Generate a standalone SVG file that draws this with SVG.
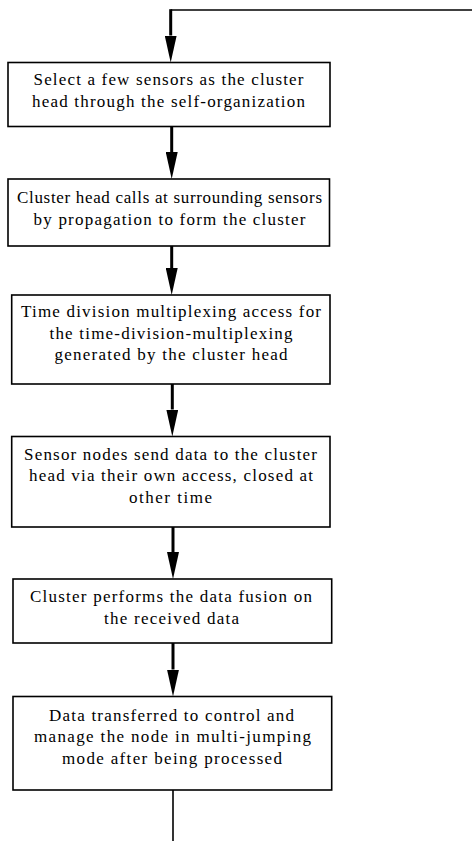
<svg xmlns="http://www.w3.org/2000/svg" width="472" height="841" viewBox="0 0 472 841">
<style>
.box{fill:#fff;stroke:#000;stroke-width:1.6}
.lbl{font-family:'Liberation Serif','Times New Roman',serif;font-size:17px;fill:#000;text-anchor:middle}
.shaft{stroke:#000;stroke-width:3;fill:none}
.thin{stroke:#000;stroke-width:1.6;fill:none}
</style>
<defs>
<marker id="ah" viewBox="0 -6 27 12" refX="0" refY="0" markerWidth="27" markerHeight="12" markerUnits="userSpaceOnUse" orient="auto">
<path d="M0,-6 L27,0 L0,6 Z" fill="#000"/>
</marker>
</defs>
<rect width="472" height="841" fill="#fff"/>
<g id="connectors">
<path class="thin" d="M472,10 H170.7"/>
<path class="shaft" d="M170.7,9.2 V35.5" marker-end="url(#ah)"/>
<path class="shaft" d="M171.7,126.5 V152" marker-end="url(#ah)"/>
<path class="shaft" d="M171.7,246 V268" marker-end="url(#ah)"/>
<path class="shaft" d="M172.3,384 V409.5" marker-end="url(#ah)"/>
<path class="shaft" d="M173,527 V552" marker-end="url(#ah)"/>
<path class="shaft" d="M173,643 V669.5" marker-end="url(#ah)"/>
<path class="thin" d="M173,790 V841"/>
</g>
<g id="n1">
<rect class="box" x="8" y="62.5" width="322" height="64"/>
<text class="lbl" x="168.5" y="84.5" textLength="270" lengthAdjust="spacing">Select a few sensors as the cluster</text>
<text class="lbl" x="168.5" y="107" textLength="273" lengthAdjust="spacing">head through the self-organization</text>
</g>
<g id="n2">
<rect class="box" x="8" y="179" width="321.5" height="67"/>
<text class="lbl" x="169.5" y="202.5" textLength="305" lengthAdjust="spacing">Cluster head calls at surrounding sensors</text>
<text class="lbl" x="169.5" y="224.5" textLength="272" lengthAdjust="spacing">by propagation to form the cluster</text>
</g>
<g id="n3">
<rect class="box" x="11.7" y="295" width="318.3" height="89"/>
<text class="lbl" x="171" y="317" textLength="300" lengthAdjust="spacing">Time division multiplexing access for</text>
<text class="lbl" x="171" y="338.5" textLength="243" lengthAdjust="spacing">the time-division-multiplexing</text>
<text class="lbl" x="171" y="360" textLength="233" lengthAdjust="spacing">generated by the cluster head</text>
</g>
<g id="n4">
<rect class="box" x="11.7" y="436.5" width="318.3" height="90.5"/>
<text class="lbl" x="170.5" y="459.5" textLength="293" lengthAdjust="spacing">Sensor nodes send data to the cluster</text>
<text class="lbl" x="171" y="481" textLength="284" lengthAdjust="spacing">head via their own access, closed at</text>
<text class="lbl" x="170.5" y="502.5" textLength="83" lengthAdjust="spacing">other time</text>
</g>
<g id="n5">
<rect class="box" x="13" y="579" width="318.7" height="64"/>
<text class="lbl" x="171" y="601.5" textLength="282" lengthAdjust="spacing">Cluster performs the data fusion on</text>
<text class="lbl" x="171.5" y="624" textLength="135" lengthAdjust="spacing">the received data</text>
</g>
<g id="n6">
<rect class="box" x="13" y="696.5" width="318.7" height="93.5"/>
<text class="lbl" x="171.5" y="720.5" textLength="245" lengthAdjust="spacing">Data transferred to control and</text>
<text class="lbl" x="172.5" y="742" textLength="277" lengthAdjust="spacing">manage the node in multi-jumping</text>
<text class="lbl" x="172" y="763.5" textLength="220" lengthAdjust="spacing">mode after being processed</text>
</g>
</svg>
